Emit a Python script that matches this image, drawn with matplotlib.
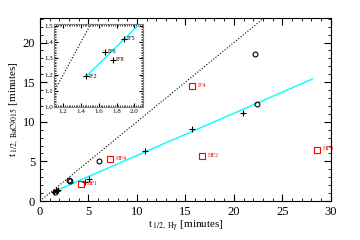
import matplotlib
matplotlib.use('Agg')
import matplotlib.pyplot as plt
from matplotlib.ticker import MultipleLocator

plt.rcParams['font.family'] = ['Liberation Serif', 'DejaVu Serif']
plt.rcParams['mathtext.fontset'] = 'stix'

# black plus markers (IF)
plus_x = [1.46, 1.67, 1.76, 1.88, 4.6, 5.1, 10.8, 15.7, 20.9]
plus_y = [1.19, 1.34, 1.29, 1.42, 2.35, 2.8, 6.3, 9.1, 11.1]

# black open circles
circ_x = [1.6, 3.0, 3.1, 6.1, 22.2, 22.4]
circ_y = [1.1, 2.7, 2.5, 5.0, 18.6, 12.3]

# red squares (HF)
sq_x = [4.2, 7.25, 15.7, 16.7, 28.6]
sq_y = [2.1, 5.3, 14.5, 5.7, 6.5]
sq_lab = ['HF1', 'HF4', 'IF4', 'HF2', 'HF9']

# inset labels
ins_lab = ['IF2', 'IF6', 'IF8', 'IF5']

# fit line end points
fit_x = [1.46, 28.1]
fit_y = [1.19, 15.4]
diag = [0, 30]

fig = plt.figure(figsize=(3.6, 2.4), dpi=100)
ax = fig.add_axes([0.111, 0.1625, 0.808, 0.7625])

ax.plot(diag, diag, ls=':', color='black', lw=0.8)
ax.plot(fit_x, fit_y, color='cyan', lw=1.0)
ax.plot(plus_x, plus_y, '+', color='black', ms=4, mew=0.8)
ax.plot(circ_x, circ_y, 'o', mfc='none', mec='black', ms=3.5, mew=0.8)
ax.plot(sq_x, sq_y, 's', mfc='none', mec='red', ms=4, mew=0.8)
for x, y, s in zip(sq_x, sq_y, sq_lab):
    ax.text(x + 0.6, y + 0.1, s, color='red', fontsize=4.5, va='center')

ax.set_xlim(0, 30)
ax.set_ylim(0, 23.1)
ax.xaxis.set_major_locator(MultipleLocator(5))
ax.xaxis.set_minor_locator(MultipleLocator(1))
ax.yaxis.set_major_locator(MultipleLocator(5))
ax.yaxis.set_minor_locator(MultipleLocator(1))
ax.tick_params(which='both', direction='in', top=True, right=True, labelsize=9)
ax.tick_params(which='major', length=5)
ax.tick_params(which='minor', length=2.5)
ax.set_xlabel(r't$_{\,\mathrm{1/2,\ H\gamma}}$ [minutes]', fontsize=8, labelpad=1)
ax.set_ylabel(r't$_{\,\mathrm{1/2,\ BaC9015}}$ [minutes]', fontsize=8, labelpad=1)

# inset
axi = fig.add_axes([0.151, 0.553, 0.247, 0.347])
axi.plot(diag, diag, ls=':', color='black', lw=0.8)
axi.plot([1.46, 2.1], [1.19, 1.19 + 0.535 * 0.64], color='cyan', lw=1.0)
axi.plot(plus_x[:4], plus_y[:4], '+', color='black', ms=4, mew=0.8)
for x, y, s in zip(plus_x[:4], plus_y[:4], ins_lab):
    axi.text(x + 0.03, y, s, fontsize=4.5, va='center')
axi.set_xlim(1.1, 2.1)
axi.set_ylim(1.0, 1.51)
axi.xaxis.set_major_locator(MultipleLocator(0.2))
axi.xaxis.set_minor_locator(MultipleLocator(0.02))
axi.yaxis.set_major_locator(MultipleLocator(0.1))
axi.yaxis.set_minor_locator(MultipleLocator(0.01))
axi.tick_params(which='both', direction='in', top=True, right=True, labelsize=5, pad=1)
axi.tick_params(which='major', length=3)
axi.tick_params(which='minor', length=1.5, width=0.5)
for sp in axi.spines.values():
    sp.set_color('gray')

fig.savefig('out.png', dpi=100)
